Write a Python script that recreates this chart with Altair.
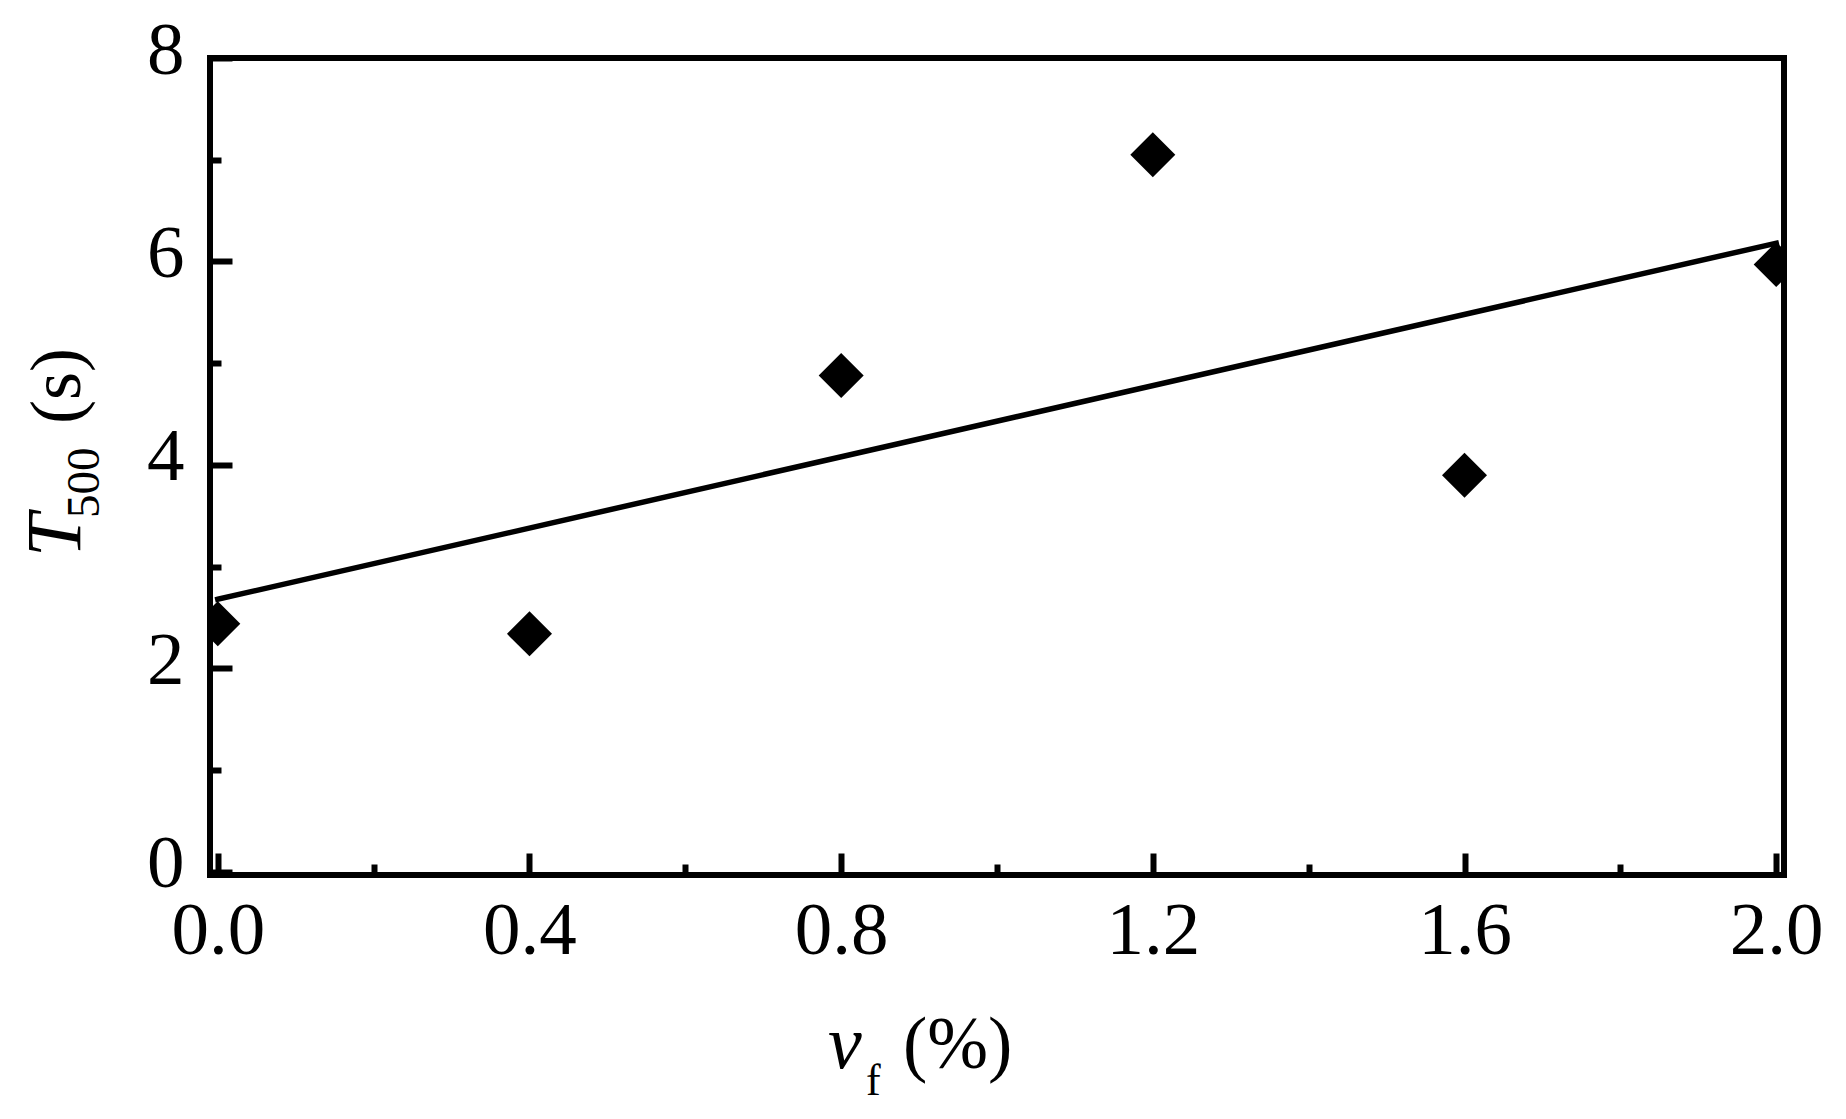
import altair as alt
import pandas as pd

# data
vf = [0.0, 0.4, 0.8, 1.2, 1.6, 2.0]
t500 = [2.44, 2.34, 4.88, 7.05, 3.90, 5.97]

x_major = [0.0, 0.4, 0.8, 1.2, 1.6, 2.0]
x_minor = [0.2, 0.6, 1.0, 1.4, 1.8]
y_major = [0, 2, 4, 6, 8]
y_minor = [1, 3, 5, 7]

df = pd.DataFrame({"vf": vf, "t500": t500})

FONT = "Liberation Serif"
W, H = 1574, 817
LW = 6

xs = alt.Scale(domain=[-0.01, 2.01], nice=False, zero=False)
ys = alt.Scale(domain=[-0.03, 8], nice=False, zero=False)

common = dict(domain=False, grid=False, tickWidth=LW, tickColor="black", title=None)

ax_x_major = alt.Axis(orient="bottom", values=x_major, format=".1f", offset=-22, tickSize=22,
                      labelPadding=19, labelFont=FONT, labelFontSize=75, labelColor="black",
                      labelFlush=False, labelOverlap=False, **common)
ax_x_minor = alt.Axis(orient="bottom", values=x_minor, labels=False, offset=-11, tickSize=11, **common)
ax_y_major = alt.Axis(orient="left", values=y_major, format="d", offset=-22, tickSize=22,
                      labelPadding=26, labelFont=FONT, labelFontSize=75, labelColor="black",
                      labelOffset=-8, labelFlush=False, labelOverlap=False, **common)
ax_y_minor = alt.Axis(orient="left", values=y_minor, labels=False, offset=-11, tickSize=11, **common)

base = alt.Chart(df)

points = base.mark_point(shape="diamond", filled=True, size=2025, color="black",
                         opacity=1, clip=True).encode(
    x=alt.X("vf:Q", scale=xs, axis=ax_x_major),
    y=alt.Y("t500:Q", scale=ys, axis=ax_y_major),
)

minor = base.mark_point(opacity=0, clip=True).encode(
    x=alt.X("vf:Q", scale=xs, axis=ax_x_minor),
    y=alt.Y("t500:Q", scale=ys, axis=ax_y_minor),
)

fit = base.transform_regression("vf", "t500").mark_line(
    color="black", strokeWidth=5.5, strokeCap="square", clip=True).encode(
    x=alt.X("vf:Q", scale=xs, axis=None),
    y=alt.Y("t500:Q", scale=ys, axis=None),
)


def txt(s, x, y, size, italic=False, angle=0):
    return alt.Chart(alt.Data(values=[{"t": s}])).mark_text(
        font=FONT, fontSize=size, fontStyle="italic" if italic else "normal",
        angle=angle, align="left", baseline="alphabetic", color="black").encode(
        text="t:N", x=alt.value(x), y=alt.value(y))


titles = [
    txt("T", -130, 499, 78, italic=True, angle=270),
    txt("500", -111, 460, 47, angle=270),
    txt("(s)", -130, 366, 72, angle=270),
    txt("v", 618, 1010, 76, italic=True),
    txt("f", 656, 1037, 44),
    txt("(%)", 693, 1010, 73),
]

chart = alt.layer(minor, points, fit, *titles).resolve_axis(
    x="independent", y="independent"
).properties(
    width=W, height=H,
    background="white",
    autosize=alt.AutoSizeParams(type="none"),
    padding={"left": 202, "top": 50, "right": 50, "bottom": 240},
).configure_view(stroke="black", strokeWidth=LW)

chart.save("out.html", embed_options={"renderer": "svg", "actions": False})
